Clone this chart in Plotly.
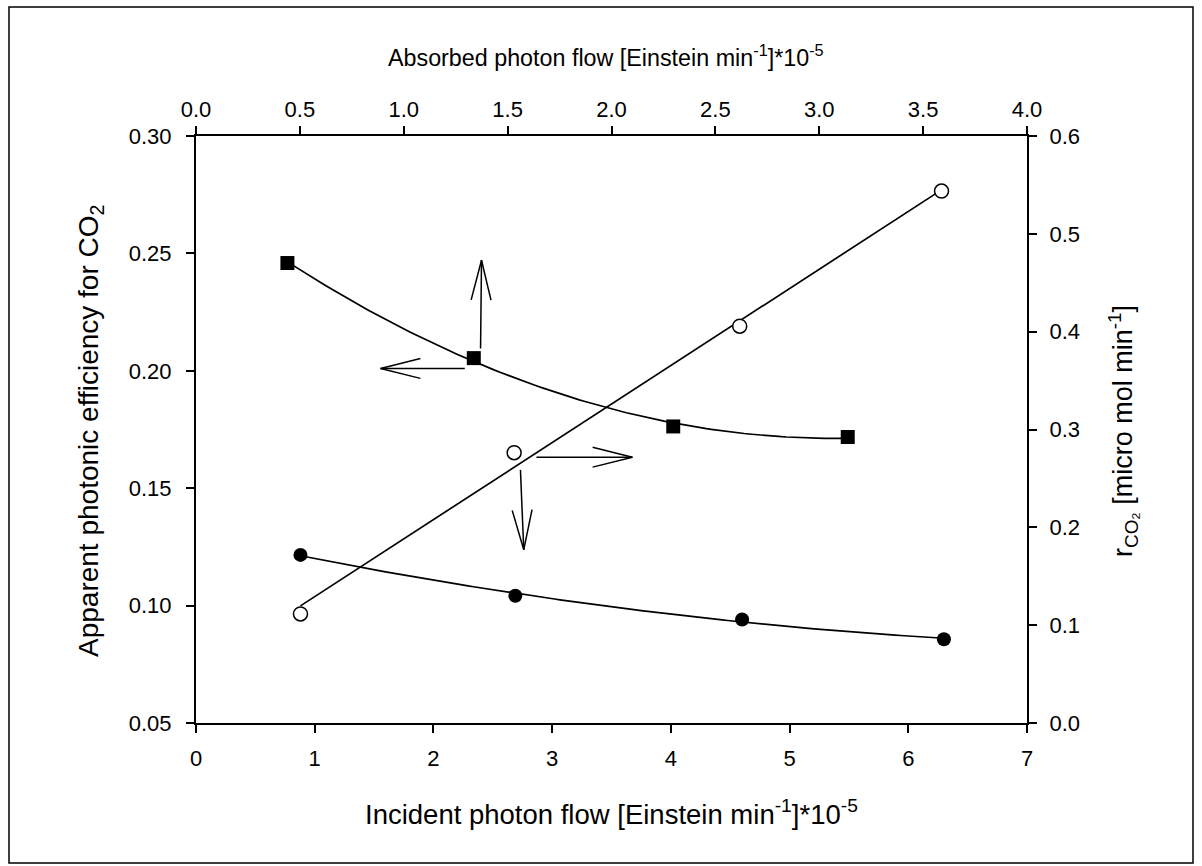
import numpy as np
import plotly.graph_objects as go

# ---------------- data ----------------
incident_sq = [0.77, 2.34, 4.02, 5.49]          # filled squares, left axis
efficiency_sq = [0.2459, 0.2054, 0.1763, 0.1718]

incident_fc = [0.88, 2.69, 4.60, 6.30]          # filled circles, left axis
efficiency_fc = [0.1216, 0.1042, 0.0941, 0.0857]

incident_oc = [0.88, 2.68, 4.58, 6.28]          # open circles, right axis
rate_co2 = [0.1115, 0.2763, 0.4056, 0.5437]

x_ticks = [0, 1, 2, 3, 4, 5, 6, 7]
x2_ticks = [0.0, 0.5, 1.0, 1.5, 2.0, 2.5, 3.0, 3.5, 4.0]
y_ticks = [0.05, 0.10, 0.15, 0.20, 0.25, 0.30]
y2_ticks = [0.0, 0.1, 0.2, 0.3, 0.4, 0.5, 0.6]

# annotation arrows (tail -> tip) in bottom-x / left-y data units
arrow_up = [(2.397, 0.2095), (2.405, 0.2471)]
arrow_left = [(2.264, 0.2010), (1.555, 0.2010)]
arrow_right = [(2.868, 0.1632), (3.676, 0.1632)]
arrow_down = [(2.733, 0.1578), (2.761, 0.1238)]

# ---------------- layout geometry ----------------
W, H = 1202, 866
ML, MR, MT, MB = 196, 175, 136, 143
PW, PH = W - ML - MR, H - MT - MB
X_RANGE, X2_RANGE = [0, 7], [0, 4]
Y_RANGE, Y2_RANGE = [0.05, 0.30], [0.0, 0.6]
SX = PW / (X_RANGE[1] - X_RANGE[0])
SY = PH / (Y_RANGE[1] - Y_RANGE[0])
FONT = "Liberation Sans, Arial, sans-serif"


def px2paper(px):
    return (px - ML) / PW


def py2paper(py):
    return (H - MB - py) / PH


def arrow_path(tail, tip, head_len=41, half_angle=14):
    dxp = (tip[0] - tail[0]) * SX
    dyp = (tip[1] - tail[1]) * SY
    n = np.hypot(dxp, dyp)
    ux, uy = -dxp / n, -dyp / n
    xs, ys = [tail[0], tip[0], None], [tail[1], tip[1], None]
    for s in (1, -1):
        a = np.radians(s * half_angle)
        bx = ux * np.cos(a) - uy * np.sin(a)
        by = ux * np.sin(a) + uy * np.cos(a)
        xs += [tip[0] + head_len * bx / SX, tip[0], None]
        ys += [tip[1] + head_len * by / SY, tip[1], None]
    return xs, ys


fig = go.Figure()


def fit_curve(x, y, deg):
    c = np.polyfit(x, y, deg)
    xx = np.linspace(min(x), max(x), 120)
    return xx, np.polyval(c, xx)


xx, yy = fit_curve(incident_sq, efficiency_sq, 2)
fig.add_trace(go.Scatter(x=xx, y=yy, mode="lines",
                         line=dict(color="black", width=1.7), hoverinfo="skip"))
xx, yy = fit_curve(incident_fc, efficiency_fc, 2)
fig.add_trace(go.Scatter(x=xx, y=yy, mode="lines",
                         line=dict(color="black", width=1.7), hoverinfo="skip"))
xx, yy = fit_curve(incident_oc, rate_co2, 1)
fig.add_trace(go.Scatter(x=xx, y=yy, mode="lines", yaxis="y2",
                         line=dict(color="black", width=1.7), hoverinfo="skip"))

# markers
fig.add_trace(go.Scatter(x=incident_sq, y=efficiency_sq, mode="markers",
                         marker=dict(symbol="square", size=14, color="black")))
fig.add_trace(go.Scatter(x=incident_fc, y=efficiency_fc, mode="markers",
                         marker=dict(symbol="circle", size=14, color="black")))
fig.add_trace(go.Scatter(x=incident_oc, y=rate_co2, mode="markers", yaxis="y2",
                         marker=dict(symbol="circle", size=14, color="white",
                                     line=dict(color="black", width=1.5))))

# invisible trace to anchor the top axis
fig.add_trace(go.Scatter(x=X2_RANGE, y=[0.1, 0.1], xaxis="x2", mode="markers",
                         marker=dict(opacity=0), hoverinfo="skip"))

# arrows
for tail, tip in (arrow_up, arrow_left, arrow_right, arrow_down):
    ax_, ay_ = arrow_path(tail, tip)
    fig.add_trace(go.Scatter(x=ax_, y=ay_, mode="lines",
                             line=dict(color="black", width=1.5), hoverinfo="skip"))

axis_common = dict(showgrid=False, zeroline=False, showline=True, linecolor="black",
                   linewidth=2, ticks="outside", ticklen=8, tickwidth=1.5,
                   tickcolor="black", tickfont=dict(family=FONT, size=22, color="black"))

fig.update_layout(
    width=W, height=H,
    margin=dict(l=ML, r=MR, t=MT, b=MB, pad=0),
    paper_bgcolor="white", plot_bgcolor="white",
    showlegend=False,
    font=dict(family=FONT, color="black"),
    xaxis=dict(range=X_RANGE, tickvals=x_ticks, tickformat="d",
               ticklabelstandoff=7, **axis_common),
    xaxis2=dict(range=X2_RANGE, tickvals=x2_ticks, tickformat=".1f", overlaying="x",
                side="top", anchor="y", **axis_common),
    yaxis=dict(range=Y_RANGE, tickvals=y_ticks, tickformat=".2f",
               ticklabelstandoff=10, **axis_common),
    yaxis2=dict(range=Y2_RANGE, tickvals=y2_ticks, tickformat=".1f", overlaying="y",
                side="right", anchor="x", ticklabelstandoff=8, **axis_common),
)

annots = [
    dict(text="Incident photon flow [Einstein min<sup>-1</sup>]*10<sup>-5</sup>",
         x=px2paper(611), y=py2paper(812), size=27.5, angle=0),
    dict(text="Absorbed photon flow [Einstein min<sup>-1</sup>]*10<sup>-5</sup>",
         x=px2paper(606), y=py2paper(56), size=23.3, angle=0),
    dict(text="Apparent photonic efficiency for CO<sub>2</sub>",
         x=px2paper(90), y=py2paper(431), size=28, angle=-90),
    dict(text="r<sub>CO₂</sub> [micro mol min<sup>-1</sup>]",
         x=px2paper(1123), y=py2paper(431), size=27, angle=-90),
]
for a in annots:
    fig.add_annotation(text=a["text"], x=a["x"], y=a["y"], xref="paper", yref="paper",
                       showarrow=False, textangle=a["angle"], xanchor="center",
                       yanchor="middle", font=dict(family=FONT, size=a["size"], color="black"))

# outer frame
fig.add_shape(type="rect", xref="paper", yref="paper",
              x0=px2paper(9), x1=px2paper(1193), y0=py2paper(863), y1=py2paper(7),
              line=dict(color="black", width=1.5), layer="below")

fig.write_html("out.html",
               config={"displayModeBar": False},
               post_script="document.body.style.margin='0';"
                           "document.body.style.overflow='hidden';")
